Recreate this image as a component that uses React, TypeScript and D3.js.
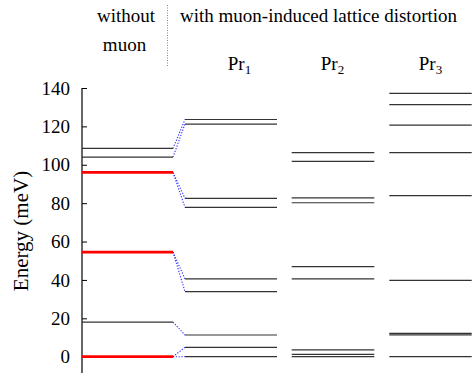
import React, { useEffect, useRef } from "react";
import * as d3 from "d3";

// ---- data (meV) ----
const yTicks = [0, 20, 40, 60, 80, 100, 120, 140];
const freeIonLevels = [0, 18, 54.5, 96, 104, 108.5];
const freeIonDoublets = [0, 54.5, 96]; // drawn in red
const pr1Levels = [0, 4.9, 11.3, 33.9, 40.5, 77.8, 82.5, 121.2, 123.6];
const pr2Levels = [0, 1.2, 3.6, 40.5, 46.9, 80.2, 82.8, 101.8, 106.3];
const pr3Levels = [0, 11.4, 12.2, 39.8, 83.9, 106.3, 120.7, 131.3, 137.2];
// connections from free-ion levels to Pr1 levels
const connectFrom = [0, 0, 18, 54.5, 54.5, 96, 96, 104, 108.5];
const connectTo = [0, 4.9, 11.3, 33.9, 40.5, 77.8, 82.5, 121.2, 123.6];
const columnLabels = ["1", "2", "3"];

// ---- layout ----
const W = 474;
const H = 373;
const axisX = 82;
const cols = [
  { x0: 82, x1: 173 },
  { x0: 185, x1: 277 },
  { x0: 291.7, x1: 374.3 },
  { x0: 389.3, x1: 471.7 },
];
const labelX = [239.5, 332.5, 430.5];
const FAMILY = "Liberation Serif";

export default function App() {
  const axisRef = useRef<SVGGElement>(null);
  const y = d3.scaleLinear().domain([0, 140]).range([356.7, 88]);

  useEffect(() => {
    if (!axisRef.current) return;
    const g = d3.select(axisRef.current);
    g.selectAll("*").remove();
    const axis = d3
      .axisLeft(y)
      .tickValues(yTicks)
      .tickSizeInner(-5)
      .tickSizeOuter(0)
      .tickPadding(12)
      .tickFormat((d) => String(d));
    g.call(axis as any);
    g.attr("font-family", FAMILY).attr("font-size", 19);
    g.select(".domain").remove();
    g.selectAll(".tick line").attr("stroke", "#000").attr("stroke-width", 1);
    g.selectAll(".tick text")
      .attr("fill", "#000")
      .attr("font-family", FAMILY)
      .attr("font-size", 19)
      .style("font-family", `"${FAMILY}"`);
  }, []);

  const levelsPerCol = [freeIonLevels, pr1Levels, pr2Levels, pr3Levels];
  const ff = { fontFamily: `"${FAMILY}"` };

  return (
    <svg
      width={W}
      height={H}
      fontFamily={FAMILY}
      style={{ position: "absolute", left: 0, top: 0, background: "#fff" }}
    >
      {/* headers */}
      <text x={155} y={22} fontSize={19} fontFamily={FAMILY} style={ff} textAnchor="end">without</text>
      <text x={124.5} y={51} fontSize={19} fontFamily={FAMILY} style={ff} textAnchor="middle">muon</text>
      <line
        x1={167.5}
        x2={167.5}
        y1={5}
        y2={66}
        stroke="#888"
        strokeWidth={1}
        strokeDasharray="1,1.5"
      />
      <text x={180} y={22} fontSize={19} fontFamily={FAMILY} style={ff}>
        with muon-induced lattice distortion
      </text>
      {columnLabels.map((s, i) => (
        <text key={s} x={labelX[i]} y={70} fontSize={19} fontFamily={FAMILY} style={ff} textAnchor="middle">
          Pr
          <tspan fontSize={13} dy={4}>{s}</tspan>
        </text>
      ))}

      {/* y label */}
      <text
        transform={`translate(28,231) rotate(-90)`}
        fontSize={21}
        fontFamily={FAMILY}
        style={ff}
        textAnchor="middle"
      >
        Energy (meV)
      </text>

      {/* axis */}
      <line x1={axisX} x2={axisX} y1={y(140)} y2={H} stroke="#000" strokeWidth={1.2} />
      <g ref={axisRef} transform={`translate(${axisX},0)`} />

      {/* connectors */}
      {connectFrom.map((f, i) => (
        <line
          key={"c" + i}
          x1={cols[0].x1}
          y1={y(f)}
          x2={cols[1].x0}
          y2={y(connectTo[i])}
          stroke="#2a2aff"
          strokeWidth={1.1}
          strokeDasharray="1.2,1.6"
        />
      ))}

      {/* levels */}
      {levelsPerCol.map((lv, ci) =>
        lv.map((e, i) => {
          const red = ci === 0 && freeIonDoublets.includes(e);
          return (
            <line
              key={ci + "-" + i}
              x1={cols[ci].x0}
              x2={cols[ci].x1}
              y1={y(e)}
              y2={y(e)}
              stroke={red ? "#ff0000" : "#333"}
              strokeWidth={red ? 2.8 : 1.2}
            />
          );
        })
      )}
    </svg>
  );
}
